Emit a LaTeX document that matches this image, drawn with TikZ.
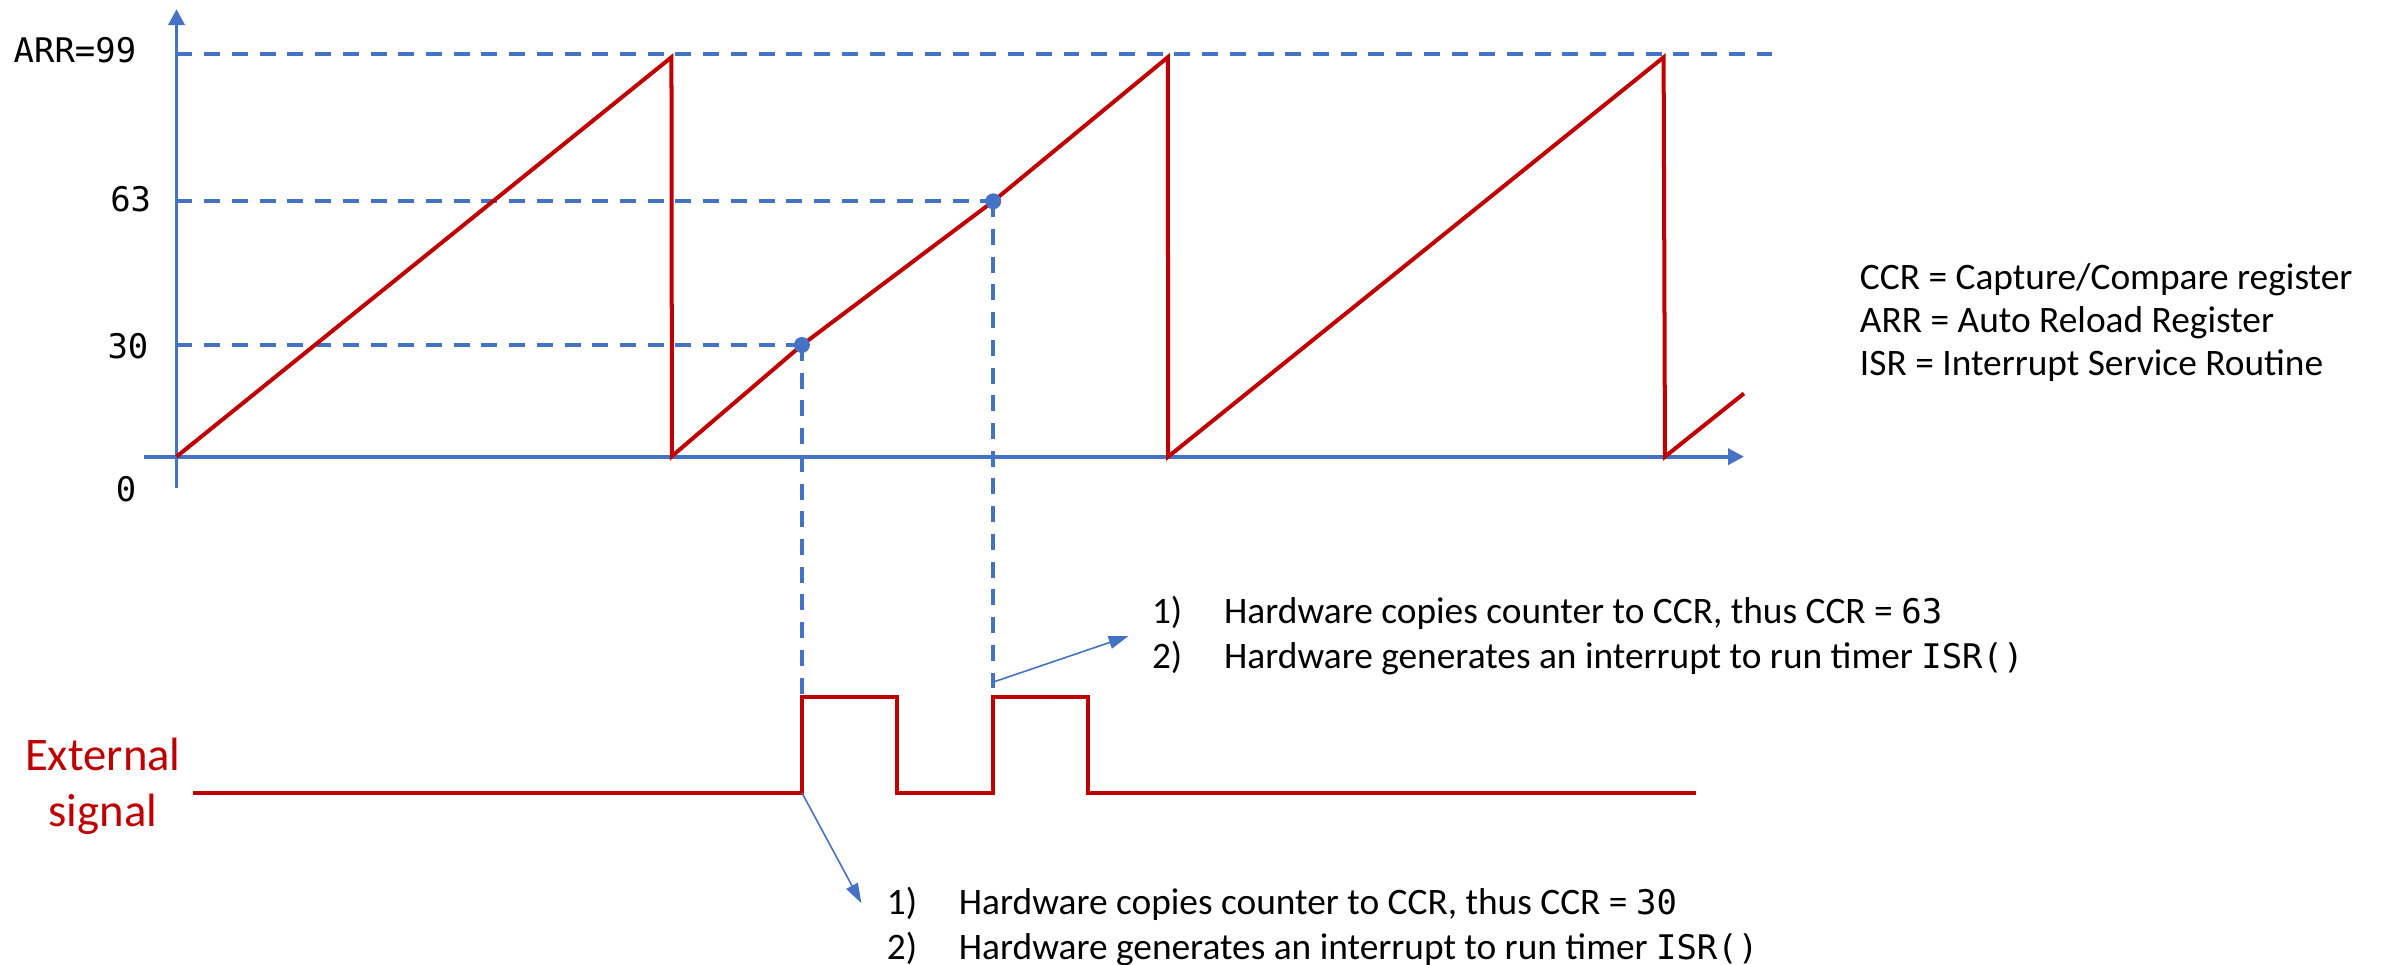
\documentclass[tikz,border=0pt]{standalone}
\usepackage{fontspec}
\setmainfont{Carlito}
\newfontfamily\codefont{DejaVu Sans Mono}
\usetikzlibrary{arrows.meta}
\definecolor{axisblue}{HTML}{4472C4}
\definecolor{sigred}{HTML}{C00000}
\newcommand{\code}[1]{{\codefont\fontsize{12.7}{15}\selectfont #1}}

\begin{document}
\begin{tikzpicture}[x=0.02cm, y=-0.02cm,
		axis/.style={axisblue, line width=1.4pt, -{Triangle[length=0.21cm, width=0.21cm]}},
		level/.style={axisblue, line width=1.5pt, dash pattern=on 0.21cm off 0.155cm},
		ramp/.style={sigred, line width=1.5pt},
		pulse/.style={sigred, line width=1.6pt},
		note/.style={axisblue, line width=0.6pt, -{Triangle[length=0.26cm, width=0.17cm]}},
		txt/.style={font=\fontsize{14}{16.5}\selectfont, inner sep=0pt, anchor=base west},
		lbl/.style={font=\codefont\fontsize{12.7}{15}\selectfont, inner sep=0pt, anchor=base east},
		sig/.style={font=\fontsize{17.5}{21}\selectfont, text=sigred, inner sep=0pt, anchor=base}]
		\useasboundingbox (0,0) rectangle (1568,635);
		
		\coordinate (c30) at (527.9,227.1);
		\coordinate (c63) at (653.8,132.5);
		\coordinate (r30) at (527.9,458.6);
		\coordinate (r63) at (653.8,458.6);
		\coordinate (low30) at (527.9,521.9);
		\coordinate (up63) at (653.8,449);
		\coordinate (tip63) at (742.8,418.7);
		\coordinate (tip30) at (567,594.5);
		
		\draw[level] (116.2,35.8) -- (1168,35.8);
		\draw[level] (116.2,132.5) -- (c63);
		\draw[level] (116.2,227.1) -- (c30);
		\draw[level] (c30) -- (r30);
		\draw[level] (c63) -- (r63);
		
		\draw[axis] (116.2,321.5) -- (116.2,6);
		\draw[axis] (95,300.6) -- (1148,300.6);
		
		\draw[ramp] (116.2,300.6) -- (442,37.7) -- (442.3,300.3) -- (c30) -- (c63) -- (768.7,37.7) -- (769,300.6)
			-- (1095.1,37.7) -- (1096,300.6) -- (1148,259);
		\fill[axisblue] (c30) circle (0.105cm);
		\fill[axisblue] (c63) circle (0.105cm);
		
		\node[lbl] (arr) at (90,41.3) {ARR=99};
		\node[lbl] (l63) at (99.8,139.4) {63};
		\node[lbl] (l30) at (98,235.9) {30};
		\node[lbl] (l0) at (90,330.3) {0};
		
		\draw[pulse] (126.9,521.9) -- (low30) -- (r30) -- (590.3,458.6) -- (590.3,521.9) -- (653.8,521.9)
			-- (r63) -- (716.3,458.6) -- (716.3,521.9) -- (1116.7,521.9);
		\node[sig] (ext1) at (67.7,507) {External};
		\node[sig] (ext2) at (67.7,544) {signal};
		
		\node[txt] (leg1) at (1224,190.5) {CCR = Capture/Compare register};
		\node[txt] (leg2) at (1224,219) {ARR = Auto Reload Register};
		\node[txt] (leg3) at (1224,247) {ISR = Interrupt Service Routine};
		
		\node[txt] (n63a) at (758,410.4) {1)};
		\node[txt] (t63a) at (805.5,410.4) {Hardware copies counter to CCR, thus CCR = \code{63}};
		\node[txt] (n63b) at (758,440) {2)};
		\node[txt] (t63b) at (805.5,440) {Hardware generates an interrupt to run timer \code{ISR()}};
		\draw[note] (up63) -- (tip63);
		
		\node[txt] (n30a) at (583.5,601.7) {1)};
		\node[txt] (t30a) at (630.9,601.7) {Hardware copies counter to CCR, thus CCR = \code{30}};
		\node[txt] (n30b) at (583.5,631.5) {2)};
		\node[txt] (t30b) at (630.9,631.5) {Hardware generates an interrupt to run timer \code{ISR()}};
		\draw[note] (low30) -- (tip30);
\end{tikzpicture}
\end{document}
